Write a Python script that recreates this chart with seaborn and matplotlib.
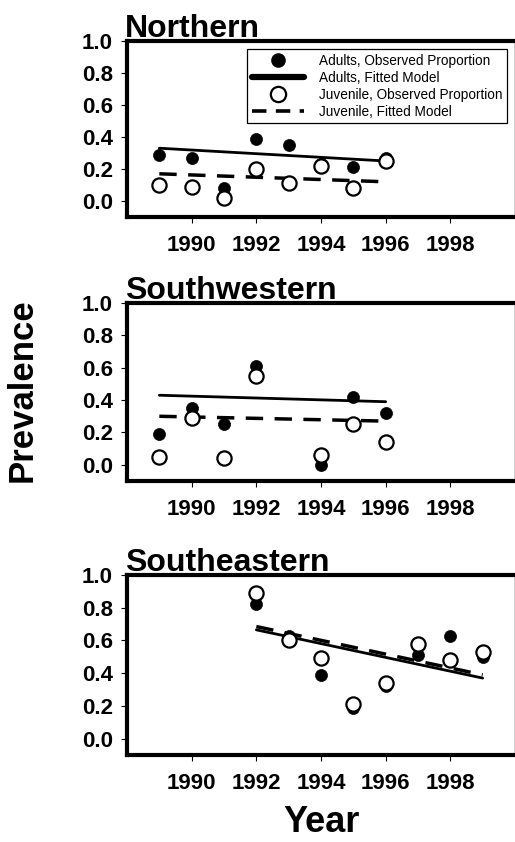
import matplotlib
matplotlib.use("Agg")
import matplotlib.pyplot as plt
from matplotlib.lines import Line2D
import seaborn as sns
import pandas as pd

sns.set_theme(style="white")
plt.rcParams['font.family'] = ['Liberation Sans', 'DejaVu Sans']
plt.rcParams['text.color'] = 'black'
plt.rcParams['axes.labelcolor'] = 'black'
plt.rcParams['xtick.color'] = 'black'
plt.rcParams['ytick.color'] = 'black'

# ---- data ----
regions = ["Northern", "Southwestern", "Southeastern"]

north_years = [1989, 1990, 1991, 1992, 1993, 1994, 1995, 1996]
north_adults = [0.29, 0.27, 0.08, 0.39, 0.35, 0.23, 0.21, 0.27]
north_juv = [0.10, 0.09, 0.02, 0.20, 0.11, 0.22, 0.08, 0.25]
north_fit_years = [1989, 1996]
north_fit_adults = [0.33, 0.25]
north_fit_juv = [0.17, 0.12]

sw_years = [1989, 1990, 1991, 1992, 1994, 1995, 1996]
sw_adults = [0.19, 0.35, 0.25, 0.61, 0.00, 0.42, 0.32]
sw_juv = [0.05, 0.29, 0.04, 0.55, 0.06, 0.25, 0.14]
sw_fit_years = [1989, 1996]
sw_fit_adults = [0.43, 0.39]
sw_fit_juv = [0.30, 0.27]

se_years = [1992, 1993, 1994, 1995, 1996, 1997, 1998, 1999]
se_adults = [0.82, 0.63, 0.39, 0.19, 0.32, 0.51, 0.63, 0.50]
se_juv = [0.89, 0.60, 0.49, 0.21, 0.34, 0.58, 0.48, 0.53]
se_fit_years = [1992, 1999]
se_fit_adults = [0.665, 0.37]
se_fit_juv = [0.685, 0.39]

x_ticks = [1990, 1992, 1994, 1996, 1998]
y_ticks = [0.0, 0.2, 0.4, 0.6, 0.8, 1.0]

legend_labels = ["Adults, Observed Proportion", "Adults, Fitted Model",
                 "Juvenile, Observed Proportion", "Juvenile, Fitted Model"]

panels = [
    (north_years, north_adults, north_juv, north_fit_years, north_fit_adults, north_fit_juv),
    (sw_years, sw_adults, sw_juv, sw_fit_years, sw_fit_adults, sw_fit_juv),
    (se_years, se_adults, se_juv, se_fit_years, se_fit_adults, se_fit_juv),
]

W, H = 515, 842
fig = plt.figure(figsize=(W / 100, H / 100), dpi=100)

# axes boxes in pixels: (left, top, right, bottom)
boxes = [(127, 41, 515, 217), (127, 303, 515, 481), (127, 575, 515, 755)]

dash = (0, (5, 3.3))

for name, box, (yrs, ad, jv, fy, fa, fj) in zip(regions, boxes, panels):
    l, t, r, b = box
    ax = fig.add_axes([l / W, 1 - b / H, (r - l) / W, (b - t) / H])
    obs = pd.DataFrame({"Year": yrs, "Adults": ad, "Juvenile": jv})
    fit = pd.DataFrame({"Year": fy, "Adults": fa, "Juvenile": fj})

    sns.lineplot(data=fit, x="Year", y="Adults", ax=ax, color="black", lw=2.0, zorder=2)
    sns.lineplot(data=fit, x="Year", y="Juvenile", ax=ax, color="black", lw=2.5,
                 linestyle=dash, zorder=2)
    sns.scatterplot(data=obs, x="Year", y="Adults", ax=ax, color="black", s=75,
                    edgecolor="black", linewidth=0.5, zorder=3)
    sns.scatterplot(data=obs, x="Year", y="Juvenile", ax=ax, facecolor="white", s=105,
                    edgecolor="black", linewidth=1.6, zorder=4)

    ax.set_xlim(1988, 2000)
    ax.set_ylim(-0.1, 1.0)
    ax.set_xticks(x_ticks)
    ax.set_xticklabels([str(v) for v in x_ticks], fontsize=16, fontweight="bold")
    ax.set_yticks(y_ticks)
    ax.set_yticklabels([f"{v:.1f}" for v in y_ticks], fontsize=16, fontweight="bold")
    ax.tick_params(axis="x", direction="out", length=4, width=0.8, pad=9, color="black", bottom=True)
    ax.tick_params(axis="y", direction="out", length=4, width=0.8, pad=6, color="black", left=True)
    ax.set_xlabel("")
    ax.set_ylabel("")
    for s in ["left", "top", "bottom", "right"]:
        ax.spines[s].set_visible(True)
        ax.spines[s].set_color("black")
        ax.spines[s].set_linewidth(3.0)
    ax.spines["right"].set_linewidth(1.0)
    ax.set_title(name, loc="left", fontsize=23, fontweight="bold", pad=3, x=-0.005,
                 color="black")

    if name == "Northern":
        handles = [
            Line2D([], [], marker="o", ls="none", color="black", markersize=9.5),
            Line2D([], [], color="black", lw=4.5),
            Line2D([], [], marker="o", ls="none", markerfacecolor="white",
                   markeredgecolor="black", markeredgewidth=1.6, markersize=11),
            Line2D([], [], color="black", lw=2.6, linestyle=(0, (4, 2.6))),
        ]
        ax.legend(handles, legend_labels, loc="upper right", bbox_to_anchor=(0.979, 0.955),
                  borderaxespad=0, fontsize=9.8, frameon=True, fancybox=False,
                  edgecolor="black", framealpha=1, handlelength=3.8, handletextpad=1.1,
                  labelspacing=0.22, borderpad=0.35, labelcolor="black")
        ax.get_legend().get_frame().set_linewidth(0.9)

fig.text(22 / W, 1 - 390 / H, "Prevalence", rotation=90, fontsize=25, fontweight="bold",
         ha="center", va="center", color="black")
fig.text(322 / W, 1 - 823 / H, "Year", fontsize=26, fontweight="bold", ha="center",
         va="center", color="black")

fig.savefig("out.png", dpi=100)
